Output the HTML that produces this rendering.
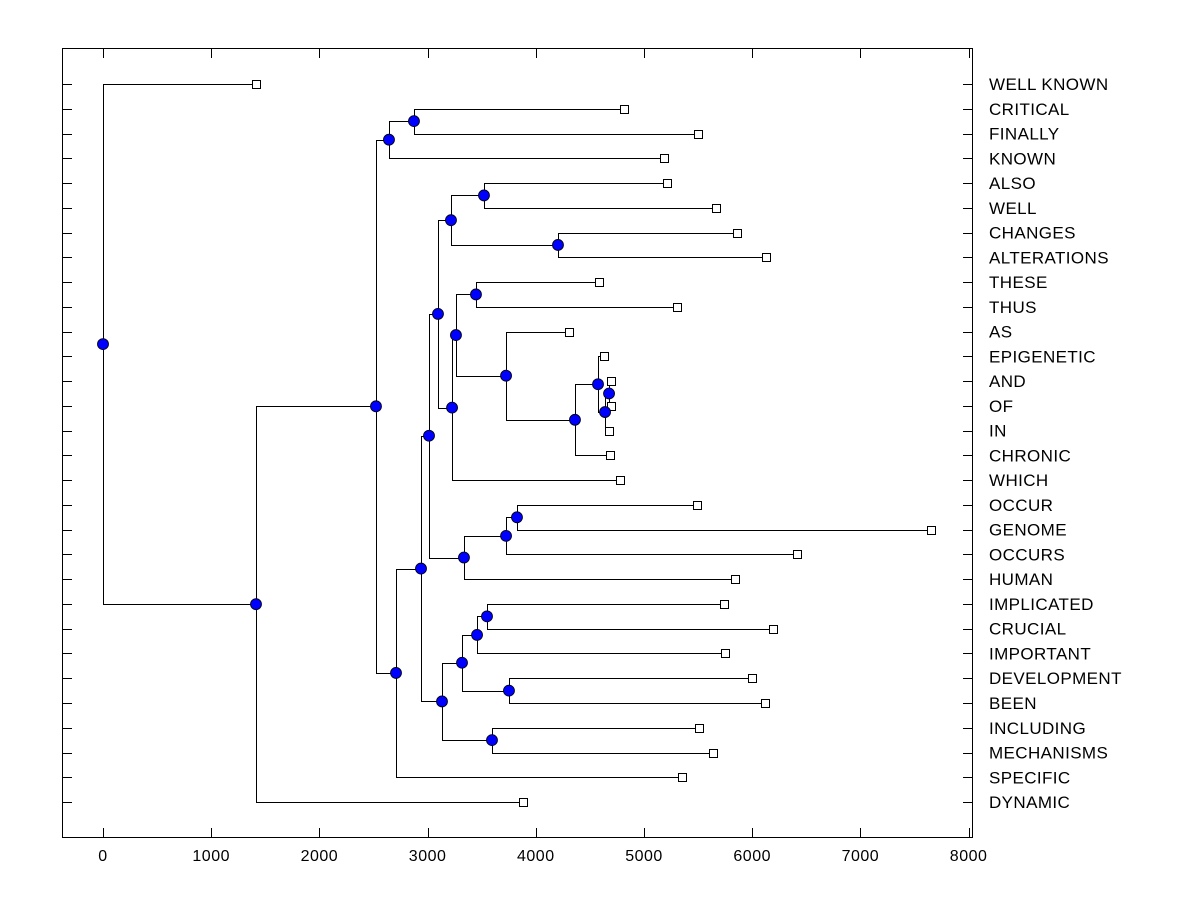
<!DOCTYPE html>
<html><head><meta charset="utf-8"><style>
body{margin:0;background:#fff}
svg{display:block;font-family:"Liberation Sans",Arial,sans-serif}
</style></head><body>
<svg id="chart" width="1200" height="900" xmlns="http://www.w3.org/2000/svg">
<rect x="62.5" y="48.5" width="910" height="789" fill="#fff" stroke="#000" stroke-width="1"/>
<g id="ticks"></g><g id="links"></g><g id="marks"></g><g id="labels"></g>
</svg>
<script>
// leaf labels (top to bottom) and leaf heights
const leafLabels = ["WELL KNOWN","CRITICAL","FINALLY","KNOWN","ALSO","WELL","CHANGES","ALTERATIONS","THESE","THUS","AS","EPIGENETIC","AND","OF","IN","CHRONIC","WHICH","OCCUR","GENOME","OCCURS","HUMAN","IMPLICATED","CRUCIAL","IMPORTANT","DEVELOPMENT","BEEN","INCLUDING","MECHANISMS","SPECIFIC","DYNAMIC"];
const leafValues = [1414,4815,5499,5185,5213,5665,5860,6128,4584,5305,4307,4630,4695,4695,4676,4686,4778,5490,7652,6414,5841,5739,6192,5749,5998,6118,5508,5638,5351,3882];
// internal nodes: children ("L#" leaf, "N#" node) and merge values
const nodeChildren = [
 ["L1","L2"],["N0","L3"],["L4","L5"],["L6","L7"],["N2","N3"],["L8","L9"],
 ["L12","L13"],["N6","L14"],["L11","N7"],["N8","L15"],["L10","N9"],["N5","N10"],
 ["N11","L16"],["N4","N12"],["L17","L18"],["N14","L19"],["N15","L20"],["N13","N16"],
 ["L21","L22"],["N18","L23"],["L24","L25"],["N19","N20"],["L26","L27"],["N21","N22"],
 ["N17","N23"],["N24","L28"],["N1","N25"],["N26","L29"],["L0","N27"]];
const nodeValues = [2874,2643,3521,4205,3216,3447,4677,4640,4575,4362,3725,3262,3226,3096,3826,3725,3336,3013,3549,3457,3752,3318,3595,3133,2939,2708,2523,1414,0];
const xTicks = [0,1000,2000,3000,4000,5000,6000,7000,8000];

const NS="http://www.w3.org/2000/svg";
const X=v=>103+v*0.1082;
const Y=i=>84+i*24.76;
function mk(t,a,p){const e=document.createElementNS(NS,t);for(const k in a)e.setAttribute(k,a[k]);p.appendChild(e);return e;}
const gT=document.getElementById('ticks'),gL=document.getElementById('links'),gM=document.getElementById('marks'),gLb=document.getElementById('labels');
xTicks.forEach(t=>{
 const x=Math.round(X(t))+0.5;
 const a=mk('line',{x1:x,x2:x,y1:49,y2:58,stroke:'#000'},gT);
 
 const b=mk('line',{x1:x,x2:x,y1:828,y2:837,stroke:'#000'},gT);
 
 const l=mk('text',{x:X(t),y:861,'text-anchor':'middle','font-size':16,'letter-spacing':0.5},gT);l.textContent=t;
 
});
leafLabels.forEach((s,i)=>{
 const y=Math.round(Y(i))+0.5;
 const a=mk('line',{x1:63,x2:72,y1:y,y2:y,stroke:'#000'},gT);
 
 const b=mk('line',{x1:963,x2:972,y1:y,y2:y,stroke:'#000'},gT);
 
 const t=mk('text',{x:989,y:Y(i)+6,'font-size':17,'letter-spacing':0.4},gLb);t.textContent=s;
 
});
const pos={};
leafValues.forEach((v,i)=>pos['L'+i]={x:X(v),y:Y(i)});
nodeChildren.forEach((c,i)=>{
 const a=pos[c[0]],b=pos[c[1]],x=X(nodeValues[i]);
 pos['N'+i]={x:x,y:(a.y+b.y)/2};
 const xs=Math.round(x)+0.5;
 const p=mk('path',{d:`M${a.x},${Math.round(a.y)+0.5}H${xs}V${Math.round(b.y)+0.5}H${b.x}`,fill:'none',stroke:'#000','stroke-width':1},gL);
 
});
leafValues.forEach((v,i)=>{
 const p=pos['L'+i];
 const r=mk('rect',{x:Math.round(p.x)-4+0.5,y:Math.round(p.y)-4+0.5,width:8,height:8,fill:'#fff',stroke:'#000'},gM);
 
});
nodeValues.forEach((v,i)=>{
 const p=pos['N'+i];
 const c=mk('circle',{cx:p.x,cy:p.y,r:5.5,fill:'#0000ff',stroke:'#000','stroke-width':0.8},gM);
 
});
</script>
</body></html>
